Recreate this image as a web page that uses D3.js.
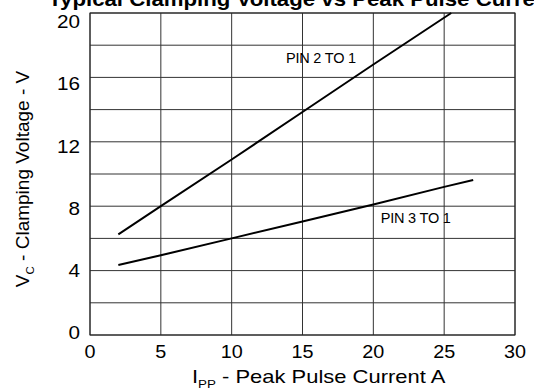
<!DOCTYPE html>
<html>
<head>
<meta charset="utf-8">
<script src="https://cdn.jsdelivr.net/npm/d3@7"></script>
<style>
  body { margin: 0; background: #fff; }
  svg { display: block; font-family: "Liberation Sans", Arial, Helvetica, sans-serif; }
</style>
</head>
<body>
<svg id="chart" width="534" height="390"></svg>
<script>
// values
var xTicks = [0, 5, 10, 15, 20, 25, 30];
var yTicks = [0, 4, 8, 12, 16, 20];
var yGrid = [0, 2, 4, 6, 8, 10, 12, 14, 16, 18, 20];

var pin21Current = [2, 5, 10, 15, 20, 25.5];
var pin21Voltage = [6.25, 8.0, 10.9, 13.85, 16.8, 20];

var pin31Current = [2, 5, 10, 15, 20, 25, 27.05];
var pin31Voltage = [4.35, 4.95, 6.0, 7.05, 8.1, 9.2, 9.63];

var seriesNames = ["PIN 2 TO 1", "PIN 3 TO 1"];
var labelCurrent = [13.83, 20.52];
var labelVoltage = [16.88, 6.94];

var svg = d3.select("#chart");
var margin = { left: 90, right: 19, top: 13, bottom: 55 };
var W = 534, H = 390;

var x = d3.scaleLinear().domain([0, 30]).range([margin.left, W - margin.right]);
var y = d3.scaleLinear().domain([0, 20]).range([H - margin.bottom, margin.top]);
// the y tick labels in the original sit a little inside the tick range
var yLab = d3.scaleLinear().domain([0, 20]).range([332.5, 21.7]);

// text in the source is a bit wider than the font, so stretch it sideways
function stretched(sel, px, py, sx) {
  return sel.append("text")
    .attr("transform", "translate(" + px + "," + py + ") scale(" + sx + ",1)");
}

// grid
svg.append("g").selectAll("line.v").data(xTicks).enter()
  .append("line")
  .attr("x1", d => x(d)).attr("x2", d => x(d))
  .attr("y1", y(0)).attr("y2", y(20))
  .attr("stroke", "#333").attr("stroke-width", 1);

svg.append("g").selectAll("line.h").data(yGrid).enter()
  .append("line")
  .attr("x1", x(0)).attr("x2", x(30))
  .attr("y1", d => y(d)).attr("y2", d => y(d))
  .attr("stroke", "#333").attr("stroke-width", 1);

svg.append("rect")
  .attr("x", x(0)).attr("y", y(20))
  .attr("width", x(30) - x(0)).attr("height", y(0) - y(20))
  .attr("fill", "none").attr("stroke", "#222").attr("stroke-width", 1);

// tick labels
var xl = svg.append("g");
xTicks.forEach(function(d) {
  stretched(xl, x(d), 358, 1.1)
    .attr("text-anchor", "middle")
    .attr("font-size", 18)
    .text(d);
});

var yl = svg.append("g");
yTicks.forEach(function(d) {
  stretched(yl, 80, yLab(d) + 6.5, 1.15)
    .attr("text-anchor", "end")
    .attr("font-size", 18)
    .text(d);
});

// curves
var line = d3.line().x(d => x(d[0])).y(d => y(d[1]));
var series = [d3.zip(pin21Current, pin21Voltage), d3.zip(pin31Current, pin31Voltage)];

svg.append("g").selectAll("path").data(series).enter()
  .append("path")
  .attr("d", line)
  .attr("fill", "none")
  .attr("stroke", "#000")
  .attr("stroke-width", 2);

svg.append("g").selectAll("text").data(seriesNames).enter()
  .append("text")
  .attr("x", (d, i) => x(labelCurrent[i]))
  .attr("y", (d, i) => y(labelVoltage[i]))
  .attr("font-size", 14.5)
  .attr("letter-spacing", -0.2)
  .text(d => d);

// title (clipped by top edge, as in the source)
stretched(svg, 302, 6, 1.14)
  .attr("text-anchor", "middle")
  .attr("font-size", 19.5)
  .attr("font-weight", "bold")
  .text("Typical Clamping Voltage vs Peak Pulse Current");

// axis titles
var xt = stretched(svg, 192, 383, 1.22)
  .attr("font-size", 18);
xt.append("tspan").text("I");
xt.append("tspan").attr("font-size", 11).attr("dy", 5).text("PP");
xt.append("tspan").attr("dy", -5).text(" - Peak Pulse Current A");

var yt = svg.append("text")
  .attr("transform", "translate(29," + 179 + ") rotate(-90)")
  .attr("text-anchor", "middle")
  .attr("font-size", 19);
yt.append("tspan").text("V");
yt.append("tspan").attr("font-size", 11.5).attr("dy", 5).text("C");
yt.append("tspan").attr("dy", -5).text(" - Clamping Voltage - V");
</script>
</body>
</html>
